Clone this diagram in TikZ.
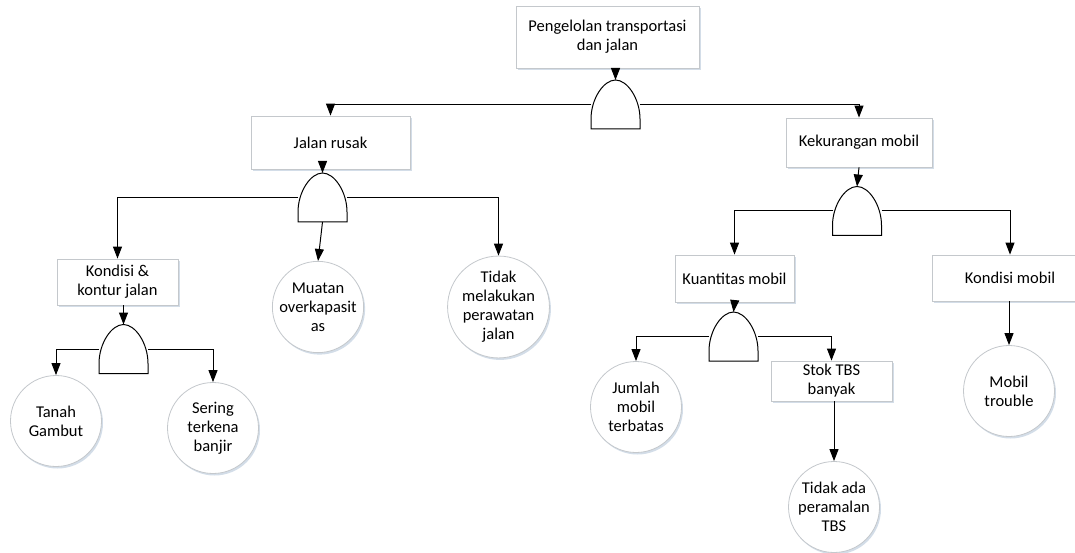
\documentclass[tikz,border=0pt]{standalone}
\usepackage{fontspec}
\setmainfont{Carlito}
\usepackage{tikz}
\usepackage{xcolor}
\usetikzlibrary{arrows.meta,shadows}

\definecolor{boxline}{HTML}{C4C8CC}
\definecolor{shade}{HTML}{D3DDE8}

\tikzset{
  box/.style={rectangle, draw=boxline, fill=white, line width=0.8pt, align=center,
    inner sep=2pt, drop shadow={shadow xshift=1.5pt, shadow yshift=-2pt, fill=shade, opacity=1}},
  event/.style={circle, draw=boxline, fill=white, line width=0.8pt, align=center,
    inner sep=0pt, minimum size=91pt,
    drop shadow={shadow xshift=1.5pt, shadow yshift=-2pt, fill=shade, opacity=1}},
  gate/.style={minimum width=49pt, minimum height=49pt, inner sep=0pt, outer sep=0pt,
    append after command={\pgfextra{\draw[line width=1pt, fill=white]
      (\tikzlastnode.south west) -- ([yshift=10pt]\tikzlastnode.south west)
      .. controls ([yshift=30pt]\tikzlastnode.south west) and ([xshift=-12pt]\tikzlastnode.north) .. (\tikzlastnode.north)
      .. controls ([xshift=12pt]\tikzlastnode.north) and ([yshift=30pt]\tikzlastnode.south east) .. ([yshift=10pt]\tikzlastnode.south east)
      -- (\tikzlastnode.south east) -- cycle;}}},
  arr/.style={-{Triangle[width=9pt,length=12pt]}, line width=1pt}
}

\begin{document}
\begin{tikzpicture}[x=1pt, y=-1pt, font=\fontsize{16.5}{19}\selectfont]
      %\draw [dotted] (0,0) grid[step=50] (1075,553);
      \useasboundingbox (0,0) rectangle (1075,553);
      \node [box, minimum width=183pt, minimum height=62pt] (top)   at ( 607.5,  37.0) {Pengelolan transportasi\\dan jalan};
      \node [gate]                                          (g0)    at ( 615.5, 104.5) {};
      \node [box, minimum width=159pt, minimum height=53pt] (jalan) at ( 330.5, 142.5) {Jalan rusak};
      \node [box, minimum width=146pt, minimum height=49pt] (kurang) at ( 859.0, 142.5) {Kekurangan mobil};
      \node [gate]                                          (g1)    at ( 322.5, 197.5) {};
      \node [gate]                                          (g2)    at ( 857.0, 211.0) {};
      \node [box, minimum width=121pt, minimum height=46pt] (kontur) at ( 117.5, 282.0) {Kondisi \&\\kontur jalan};
      \node [event]                                         (muatan) at ( 318.0, 307.0) {Muatan\\overkapasit\\as};
      \node [event]                                         (rawat) at ( 498.5, 307.0) {Tidak\\melakukan\\perawatan\\jalan};
      \node [box, minimum width=119pt, minimum height=47pt] (kuant) at ( 734.5, 278.5) {Kuantitas mobil};
      \node [box, minimum width=156pt, minimum height=46pt] (kondm) at (1010.0, 278.0) {Kondisi mobil};
      \node [gate]                                          (g3)    at ( 123.5, 349.0) {};
      \node [gate]                                          (g4)    at ( 733.5, 336.5) {};
      \node [event]                                         (gambut) at (  56.0, 421.0) {Tanah\\Gambut};
      \node [event]                                         (banjir) at ( 213.0, 428.0) {Sering\\terkena\\banjir};
      \node [event]                                         (jumlah) at ( 636.0, 407.0) {Jumlah\\mobil\\terbatas};
      \node [box, minimum width=121pt, minimum height=40pt] (stok)  at ( 831.5, 381.0) {Stok TBS\\banyak};
      \node [event]                                         (ramal) at ( 834.0, 507.0) {Tidak ada\\peramalan\\TBS};
      \node [event]                                         (trouble) at (1009.0, 391.0) {Mobil\\trouble};
      \draw [arr] (g0.north |- top.south) -- (g0.north);
      \draw [arr] (g0.west) -| (jalan.north);
      \draw [arr] (g0.east) -| (kurang.north);
      \draw [arr] (g1.north |- jalan.south) -- (g1.north);
      \draw [arr] (g1.west) -| (kontur.north);
      \draw [arr] (g1.south) -- (muatan.north);
      \draw [arr] (g1.east) -| (rawat.north);
      \draw [arr] (kurang.south) -- (g2.north);
      \draw [arr] (g2.west) -| (kuant.north);
      \draw [arr] (g2.east) -| (kondm.north);
      \draw [arr] (g3.north |- kontur.south) -- (g3.north);
      \draw [arr] (g3.west) -| (gambut.north);
      \draw [arr] (g3.east) -| (banjir.north);
      \draw [arr] (kuant.south) -- (g4.north);
      \draw [arr] (g4.west) -| (jumlah.north);
      \draw [arr] (g4.east) -| (stok.north);
      \draw [arr] (stok.south -| ramal.north) -- (ramal.north);
      \draw [arr] (kondm.south -| trouble.north) -- (trouble.north);
\end{tikzpicture}
\end{document}
